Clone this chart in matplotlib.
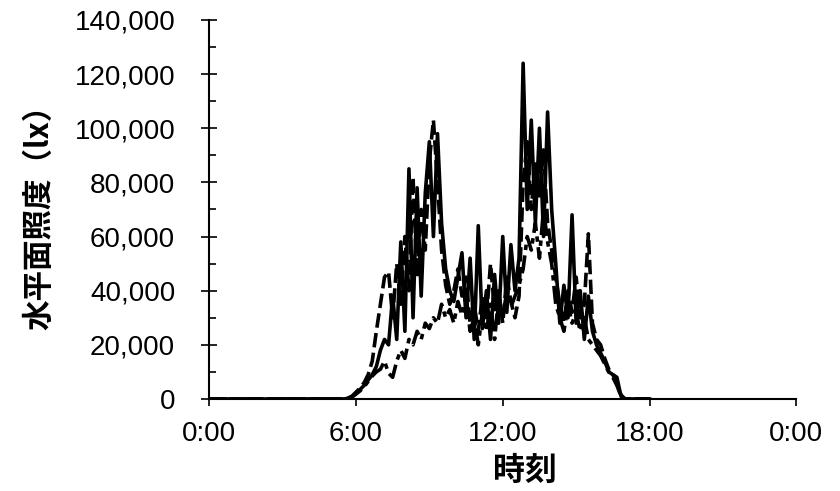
import numpy as np
import matplotlib.pyplot as plt
from matplotlib.ticker import FuncFormatter, MultipleLocator

plt.rcParams['font.family'] = ['Liberation Sans', 'DejaVu Sans']

# 10-minute readings from 5:30 to 17:00 (lx), zero outside this span
day_a = [0, 200, 800, 2000, 3500, 5000, 7000, 9000, 12000, 18000,
         22000, 20000, 38000, 22000, 58000, 25000, 85000, 30000, 78000, 38000,
         76000, 95000, 60000, 98000, 65000, 48000, 40000, 36000, 45000, 54000,
         30000, 52000, 22000, 64000, 26000, 40000, 22000, 46000, 28000, 60000,
         32000, 57000, 40000, 52000, 124000, 70000, 103000, 65000, 100000, 60000,
         106000, 70000, 50000, 28000, 42000, 30000, 68000, 28000, 40000, 22000,
         38000, 25000, 20000, 17000, 14000, 10000, 9000, 8000, 1000, 0]
day_b = [0, 300, 1000, 2500, 4000, 6000, 9000, 14000, 25000, 35000,
         45000, 47000, 30000, 50000, 35000, 60000, 40000, 82000, 45000, 70000,
         55000, 88000, 103000, 80000, 55000, 42000, 35000, 40000, 48000, 38000,
         45000, 28000, 35000, 25000, 38000, 30000, 50000, 33000, 40000, 28000,
         45000, 36000, 30000, 38000, 80000, 95000, 70000, 88000, 75000, 92000,
         65000, 55000, 45000, 35000, 28000, 40000, 32000, 45000, 30000, 35000,
         61000, 28000, 22000, 20000, 15000, 11000, 9000, 6000, 1500, 0]
day_c = [0, 200, 700, 1800, 3000, 4500, 6500, 8500, 10000, 11000,
         14000, 9500, 8000, 14000, 18000, 15000, 22000, 20000, 25000, 22000,
         28000, 26000, 30000, 28000, 35000, 30000, 33000, 28000, 36000, 31000,
         38000, 25000, 30000, 20000, 32000, 25000, 35000, 22000, 38000, 30000,
         40000, 34000, 38000, 42000, 48000, 60000, 55000, 65000, 52000, 70000,
         58000, 50000, 35000, 30000, 25000, 35000, 28000, 32000, 25000, 30000,
         22000, 20000, 18000, 16000, 13000, 10000, 8000, 5000, 1000, 0]
before = [0] * 33   # 0:00 - 5:20
after = [0] * 6     # 17:10 - 18:00

hours = np.arange(0, 18 + 1e-9, 1 / 6)
series = [
    (before + day_c + after, (0, (5, 1.5, 1.5, 1.5))),
    (before + day_b + after, (0, (4, 1.5))),
    (before + day_a + after, '-'),
]

fig = plt.figure(figsize=(8.4, 4.91), dpi=100)
ax = fig.add_axes([0.249, 0.1874, 0.699, 0.772])

for vals, ls in series:
    ax.plot(hours, vals, color='black', lw=2.6, linestyle=ls)

ax.set_xlim(0, 24)
ax.set_ylim(0, 140000)
ax.set_xticks([0, 6, 12, 18, 24])
ax.set_xticklabels(['0:00', '6:00', '12:00', '18:00', '0:00'])
ax.yaxis.set_major_locator(MultipleLocator(20000))
ax.yaxis.set_minor_locator(MultipleLocator(10000))
ax.yaxis.set_major_formatter(FuncFormatter(lambda v, p: f'{int(v):,}'))

for side in ['top', 'right']:
    ax.spines[side].set_visible(False)
for side in ['left', 'bottom']:
    ax.spines[side].set_linewidth(1.5)

ax.tick_params(axis='y', which='major', direction='inout', length=11, width=1.2,
               labelsize=20, pad=19)
ax.tick_params(axis='y', which='minor', direction='in', length=5, width=1.2)
ax.tick_params(axis='x', which='major', direction='out', length=5, width=1.2,
               labelsize=20, pad=11)

cjk = ['Noto Sans CJK JP', 'DejaVu Sans']
ax.set_ylabel('水平面照度（lx）', family=cjk, fontsize=22, fontweight='bold')
ax.set_xlabel('時刻', family=cjk, fontsize=23, fontweight='bold')
ax.yaxis.set_label_coords(-0.262, 0.5)
ax.xaxis.set_label_coords(0.538, -0.148)

fig.savefig('out.png', dpi=100)
